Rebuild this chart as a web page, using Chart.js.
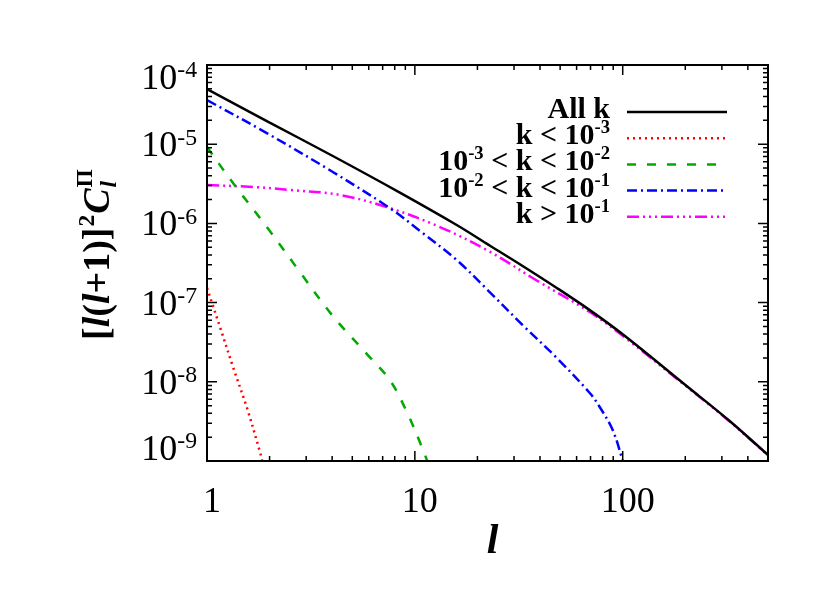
<!DOCTYPE html>
<html lang="en">
<head>
    <meta charset="UTF-8">
    <title>Angular power spectrum by k range</title>
    <script src="https://cdn.jsdelivr.net/npm/chart.js"></script>
    <style>
        body {
            margin: 0;
            background-color: #ffffff;
        }
        .wrap {
            width: 830px;
            height: 593px;
            position: relative;
        }
    </style>
</head>
<body>
    <div class="wrap">
        <canvas id="clChart"></canvas>
    </div>
    <script>
        // multipole l and [l(l+1)]^2 C_l for each k range
        const allL = [1, 1.94, 4.03, 8.47, 15.9, 22.9, 33, 48.2, 69.4, 100, 203, 327, 500];
        const allC = [4.97e-5, 1.96e-5, 7.1e-6, 2.45e-6, 9.55e-7, 5.26e-7, 2.9e-7, 1.53e-7, 8.04e-8, 3.98e-8, 8.85e-9, 3.2e-9, 1.19e-9];

        const lowL = [1, 1.069, 1.155, 1.334, 1.557, 1.798, 1.858];
        const lowC = [1.53e-7, 9.06e-8, 4.92e-8, 1.54e-8, 4.67e-9, 1.3e-9, 9.2e-10];

        const midL = [1, 1.334, 1.94, 2.8, 4.03, 5.88, 7.58, 9.15, 10.9, 11.8];
        const midC = [9.22e-6, 3.23e-6, 9.0e-7, 2.43e-7, 6.77e-8, 2.24e-8, 1.05e-8, 4.16e-9, 1.42e-9, 8.2e-10];

        const highL = [1, 1.94, 4.03, 7.58, 10.9, 15.9, 22.9, 33, 48.2, 69.4, 77.5, 89.5, 100, 101];
        const highC = [3.61e-5, 1.38e-5, 4.46e-6, 1.56e-6, 7.57e-7, 3.45e-7, 1.36e-7, 5.21e-8, 2.0e-8, 7.23e-9, 4.81e-9, 2.46e-9, 1.0e-9, 8.5e-10];

        const topL = [1, 1.7, 2.51, 4.36, 7.58, 13.2, 22.9, 38.6, 69.4, 100, 203, 327, 500];
        const topC = [3.05e-6, 2.88e-6, 2.64e-6, 2.29e-6, 1.56e-6, 9.0e-7, 4.4e-7, 1.9e-7, 7.6e-8, 3.8e-8, 8.7e-9, 3.15e-9, 1.18e-9];

        const yDecades = [1e-9, 1e-8, 1e-7, 1e-6, 1e-5, 1e-4];
        const yExps = ['-9', '-8', '-7', '-6', '-5', '-4'];
        const xMajor = [1, 10, 100];
        const xLabels = ['1', '10', '100'];

        const serif = '"Liberation Serif", "DejaVu Serif", serif';

        function pts(ls, cs) {
            return ls.map((l, i) => ({ x: l, y: cs[i] }));
        }

        const series = [
            { label: 'All k', data: pts(allL, allC), color: '#000000', dash: [] },
            { label: 'k < 10^-3', data: pts(lowL, lowC), color: '#ff0000', dash: [2, 4] },
            { label: '10^-3 < k < 10^-2', data: pts(midL, midC), color: '#00aa00', dash: [9, 11] },
            { label: '10^-2 < k < 10^-1', data: pts(highL, highC), color: '#0000ff', dash: [10, 4, 2, 4] },
            { label: 'k > 10^-1', data: pts(topL, topC), color: '#ff00ff', dash: [12, 4, 2, 4, 2, 4, 2, 4] }
        ];

        // legend rows as rich text: [text, kind] kind: n = normal, p = superscript
        const legendRows = [
            [['All k', 'n']],
            [['k < 10', 'n'], ['-3', 'p']],
            [['10', 'n'], ['-3', 'p'], [' < k < 10', 'n'], ['-2', 'p']],
            [['10', 'n'], ['-2', 'p'], [' < k < 10', 'n'], ['-1', 'p']],
            [['k > 10', 'n'], ['-1', 'p']]
        ];

        function font(size, bold, italic) {
            return (italic ? 'italic ' : '') + (bold ? 'bold ' : '') + size + 'px ' + serif;
        }

        // draw text with superscripts, anchored on baseline
        function drawRich(ctx, segs, x, y, size, bold, align, supScale, supRaise) {
            let w = 0;
            const widths = segs.map(s => {
                const sz = s[1] === 'p' ? size * supScale : size;
                ctx.font = font(sz, bold, s[2]);
                const m = ctx.measureText(s[0]).width;
                w += m;
                return m;
            });
            let cx = align === 'right' ? x - w : align === 'center' ? x - w / 2 : x;
            ctx.textAlign = 'left';
            ctx.textBaseline = 'alphabetic';
            segs.forEach((s, i) => {
                const sup = s[1] === 'p';
                ctx.font = font(sup ? size * supScale : size, bold, s[2]);
                ctx.fillText(s[0], cx, sup ? y - size * supRaise : y);
                cx += widths[i];
            });
        }

        const framePlugin = {
            id: 'frame',
            afterDraw(chart) {
                const ctx = chart.ctx;
                const a = chart.chartArea;
                const xs = chart.scales.x;
                const ys = chart.scales.y;
                ctx.save();
                ctx.fillStyle = '#000';
                ctx.strokeStyle = '#000';

                // box
                ctx.lineWidth = 2;
                ctx.setLineDash([]);
                ctx.strokeRect(a.left, a.top, a.right - a.left, a.bottom - a.top);

                // inward ticks, mirrored on all sides
                ctx.lineWidth = 1.5;
                ctx.beginPath();
                for (let d = 1; d <= 100; d *= 10) {
                    for (let m = 1; m <= 9; m++) {
                        const v = d * m;
                        if (v > 500) break;
                        const px = xs.getPixelForValue(v);
                        const len = m === 1 ? 10 : 5;
                        ctx.moveTo(px, a.bottom);
                        ctx.lineTo(px, a.bottom - len);
                        ctx.moveTo(px, a.top);
                        ctx.lineTo(px, a.top + len);
                    }
                }
                yDecades.forEach(d => {
                    for (let m = 1; m <= 9; m++) {
                        const v = d * m;
                        if (v > 1.0001e-4) break;
                        const py = ys.getPixelForValue(v);
                        const len = m === 1 ? 10 : 5;
                        ctx.moveTo(a.left, py);
                        ctx.lineTo(a.left + len, py);
                        ctx.moveTo(a.right, py);
                        ctx.lineTo(a.right - len, py);
                    }
                });
                ctx.stroke();

                // y tick labels
                yDecades.forEach((d, i) => {
                    const py = ys.getPixelForValue(d);
                    const base = Math.min(Math.max(py + 12, a.top + 24), a.bottom - 1);
                    drawRich(ctx, [['10', 'n'], [yExps[i], 'p']], a.left - 10, base, 36, false, 'right', 0.66, 0.32);
                });

                // x tick labels
                ctx.font = font(36, false, false);
                ctx.textAlign = 'center';
                ctx.textBaseline = 'alphabetic';
                xMajor.forEach((v, i) => {
                    ctx.fillText(xLabels[i], xs.getPixelForValue(v) + 5, 512);
                });

                // x title
                ctx.font = font(42, true, true);
                ctx.fillText('l', (a.left + a.right) / 2 + 5, 553);

                // y title, rotated
                ctx.save();
                ctx.translate(109, 255);
                ctx.rotate(-Math.PI / 2);
                const ts = 38;
                const parts = [['[', false], ['l', true], ['(', false], ['l', true], ['+1)]', false]];
                let w = 0;
                parts.forEach(p => { ctx.font = font(ts, true, p[1]); p.push(ctx.measureText(p[0]).width); w += p[2]; });
                ctx.font = font(ts * 0.62, true, false);
                const w2 = ctx.measureText('2').width;
                ctx.font = font(ts, true, true);
                const wC = ctx.measureText('C').width;
                ctx.font = font(ts * 0.62, true, false);
                const wPi = ctx.measureText('\u03A0').width;
                const total = w + w2 + wC + wPi + 2;
                let cx = -total / 2;
                ctx.textAlign = 'left';
                parts.forEach(p => {
                    ctx.font = font(ts, true, p[1]);
                    ctx.fillText(p[0], cx, 0);
                    cx += p[2];
                });
                ctx.font = font(ts * 0.62, true, false);
                ctx.fillText('2', cx + 1, -ts * 0.4);
                cx += w2 + 2;
                ctx.font = font(ts, true, true);
                ctx.fillText('C', cx, 0);
                cx += wC + 1;
                ctx.font = font(ts * 0.62, true, false);
                ctx.fillText('\u03A0', cx, -ts * 0.45);
                ctx.font = font(ts * 0.62, true, true);
                ctx.fillText('l', cx, ts * 0.18);
                ctx.restore();

                // legend
                legendRows.forEach((row, i) => {
                    const base = 118 + i * 26.2;
                    ctx.fillStyle = '#000';
                    drawRich(ctx, row, 610, base, 30, true, 'right', 0.62, 0.37);
                    const s = series[i];
                    ctx.strokeStyle = s.color;
                    ctx.lineWidth = 2.5;
                    ctx.setLineDash(s.dash);
                    ctx.beginPath();
                    ctx.moveTo(627, base - 6);
                    ctx.lineTo(727, base - 6);
                    ctx.stroke();
                });
                ctx.restore();
            }
        };

        const ctx = document.getElementById('clChart').getContext('2d');
        new Chart(ctx, {
            type: 'line',
            data: {
                datasets: series.map(s => ({
                    label: s.label,
                    data: s.data,
                    borderColor: s.color,
                    borderDash: s.dash,
                    borderWidth: 2.5,
                    pointRadius: 0,
                    fill: false,
                    tension: 0.35
                }))
            },
            options: {
                responsive: true,
                maintainAspectRatio: false,
                animation: false,
                layout: {
                    padding: { left: 207, top: 65, right: 62, bottom: 132 }
                },
                plugins: {
                    legend: { display: false },
                    tooltip: { enabled: false }
                },
                scales: {
                    x: { type: 'logarithmic', min: 1, max: 500, display: false },
                    y: { type: 'logarithmic', min: 1e-9, max: 1e-4, display: false }
                }
            },
            plugins: [framePlugin]
        });
    </script>
</body>
</html>
